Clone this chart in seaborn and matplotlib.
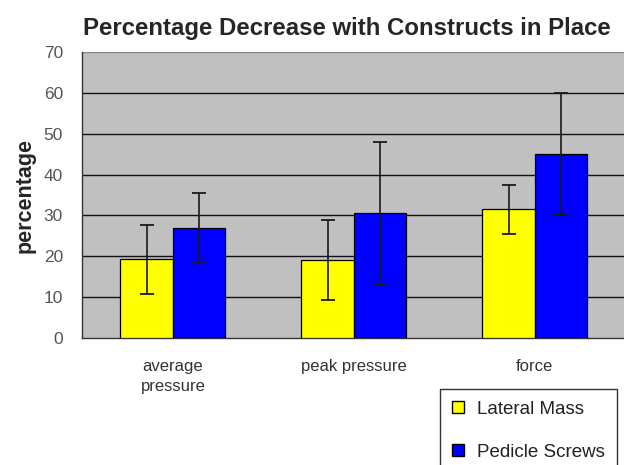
import numpy as np
import pandas as pd
import matplotlib
matplotlib.use("Agg")
import matplotlib.pyplot as plt
import seaborn as sns

categories = ["average\npressure", "peak pressure", "force"]
series = ["Lateral Mass", "Pedicle Screws"]
lateral_mass = [19.3, 19.0, 31.5]
pedicle_screws = [27.0, 30.5, 45.0]
lateral_mass_sd = [8.4, 9.8, 6.0]
pedicle_screws_sd = [8.5, 17.6, 15.0]
yticks = [0, 10, 20, 30, 40, 50, 60, 70]

df = pd.DataFrame({
    "category": categories * 2,
    "construct": [series[0]] * 3 + [series[1]] * 3,
    "value": lateral_mass + pedicle_screws,
    "sd": lateral_mass_sd + pedicle_screws_sd,
})

sns.set_style("white")
plt.rcParams["font.family"] = ["Liberation Sans", "DejaVu Sans"]

fig = plt.figure(figsize=(6.24, 4.65), dpi=100)
ax = fig.add_axes([0.132, 0.273, 0.876, 0.615])
ax.set_facecolor("#c0c0c0")

sns.barplot(data=df, x="category", y="value", hue="construct", ax=ax,
            palette=["#ffff00", "#0000ff"], saturation=1, edgecolor="black",
            linewidth=0.9, width=0.58, errorbar=None, legend=False, zorder=3)

# error bars, matched to bar centres
for bars, vals, sds in zip(ax.containers, [lateral_mass, pedicle_screws],
                           [lateral_mass_sd, pedicle_screws_sd]):
    xs = [b.get_x() + b.get_width() / 2 for b in bars]
    ax.errorbar(xs, vals, yerr=sds, fmt="none", ecolor="#1a1a1a",
                elinewidth=1.2, capsize=5, capthick=1.3, zorder=4)

ax.set_ylim(0, 70)
ax.set_xlim(-0.5, 2.52)
ax.set_yticks(yticks)
for y in yticks[1:-1]:
    ax.axhline(y, color="#111111", lw=1.0, zorder=1)
ax.axhline(70, color="#888888", lw=1.0, zorder=1)

ax.set_xticks([0, 1, 2])
ax.set_xticklabels(categories, color="#333333", fontsize=12, linespacing=1.45)
ax.set_xticks([-0.5, 0.5, 1.5, 2.5], minor=True)
ax.tick_params(axis="x", which="major", length=0, pad=15)
ax.tick_params(axis="x", which="minor", length=6, color="#333333", direction="out")
ax.tick_params(axis="y", length=6, color="#333333", direction="out",
               labelsize=12.5, labelcolor="#555555", pad=8)

for s in ["top", "right"]:
    ax.spines[s].set_visible(False)
for s in ["left", "bottom"]:
    ax.spines[s].set_color("#333333")
    ax.spines[s].set_linewidth(1.0)

ax.set_xlabel("")
ax.set_ylabel("percentage", fontsize=15.5, fontweight="bold", labelpad=6)
fig.text(0.556, 0.938, "Percentage Decrease with Constructs in Place",
         ha="center", va="center", fontsize=17.3, fontweight="bold")

handles = [plt.Line2D([], [], marker="s", ls="none", markersize=8.5,
                      markerfacecolor=c, markeredgecolor="black")
           for c in ["#ffff00", "#0000ff"]]
leg = fig.legend(handles, series, loc="upper left",
                 bbox_to_anchor=(0.705, 0.163), frameon=True, fancybox=False,
                 fontsize=13.5, handletextpad=0.7, labelspacing=1.4,
                 borderpad=0.6, handlelength=0.7, borderaxespad=0)
leg.get_frame().set_edgecolor("black")
leg.get_frame().set_linewidth(1.0)
for t in leg.get_texts():
    t.set_color("#222222")

fig.savefig("out.png", dpi=100)
